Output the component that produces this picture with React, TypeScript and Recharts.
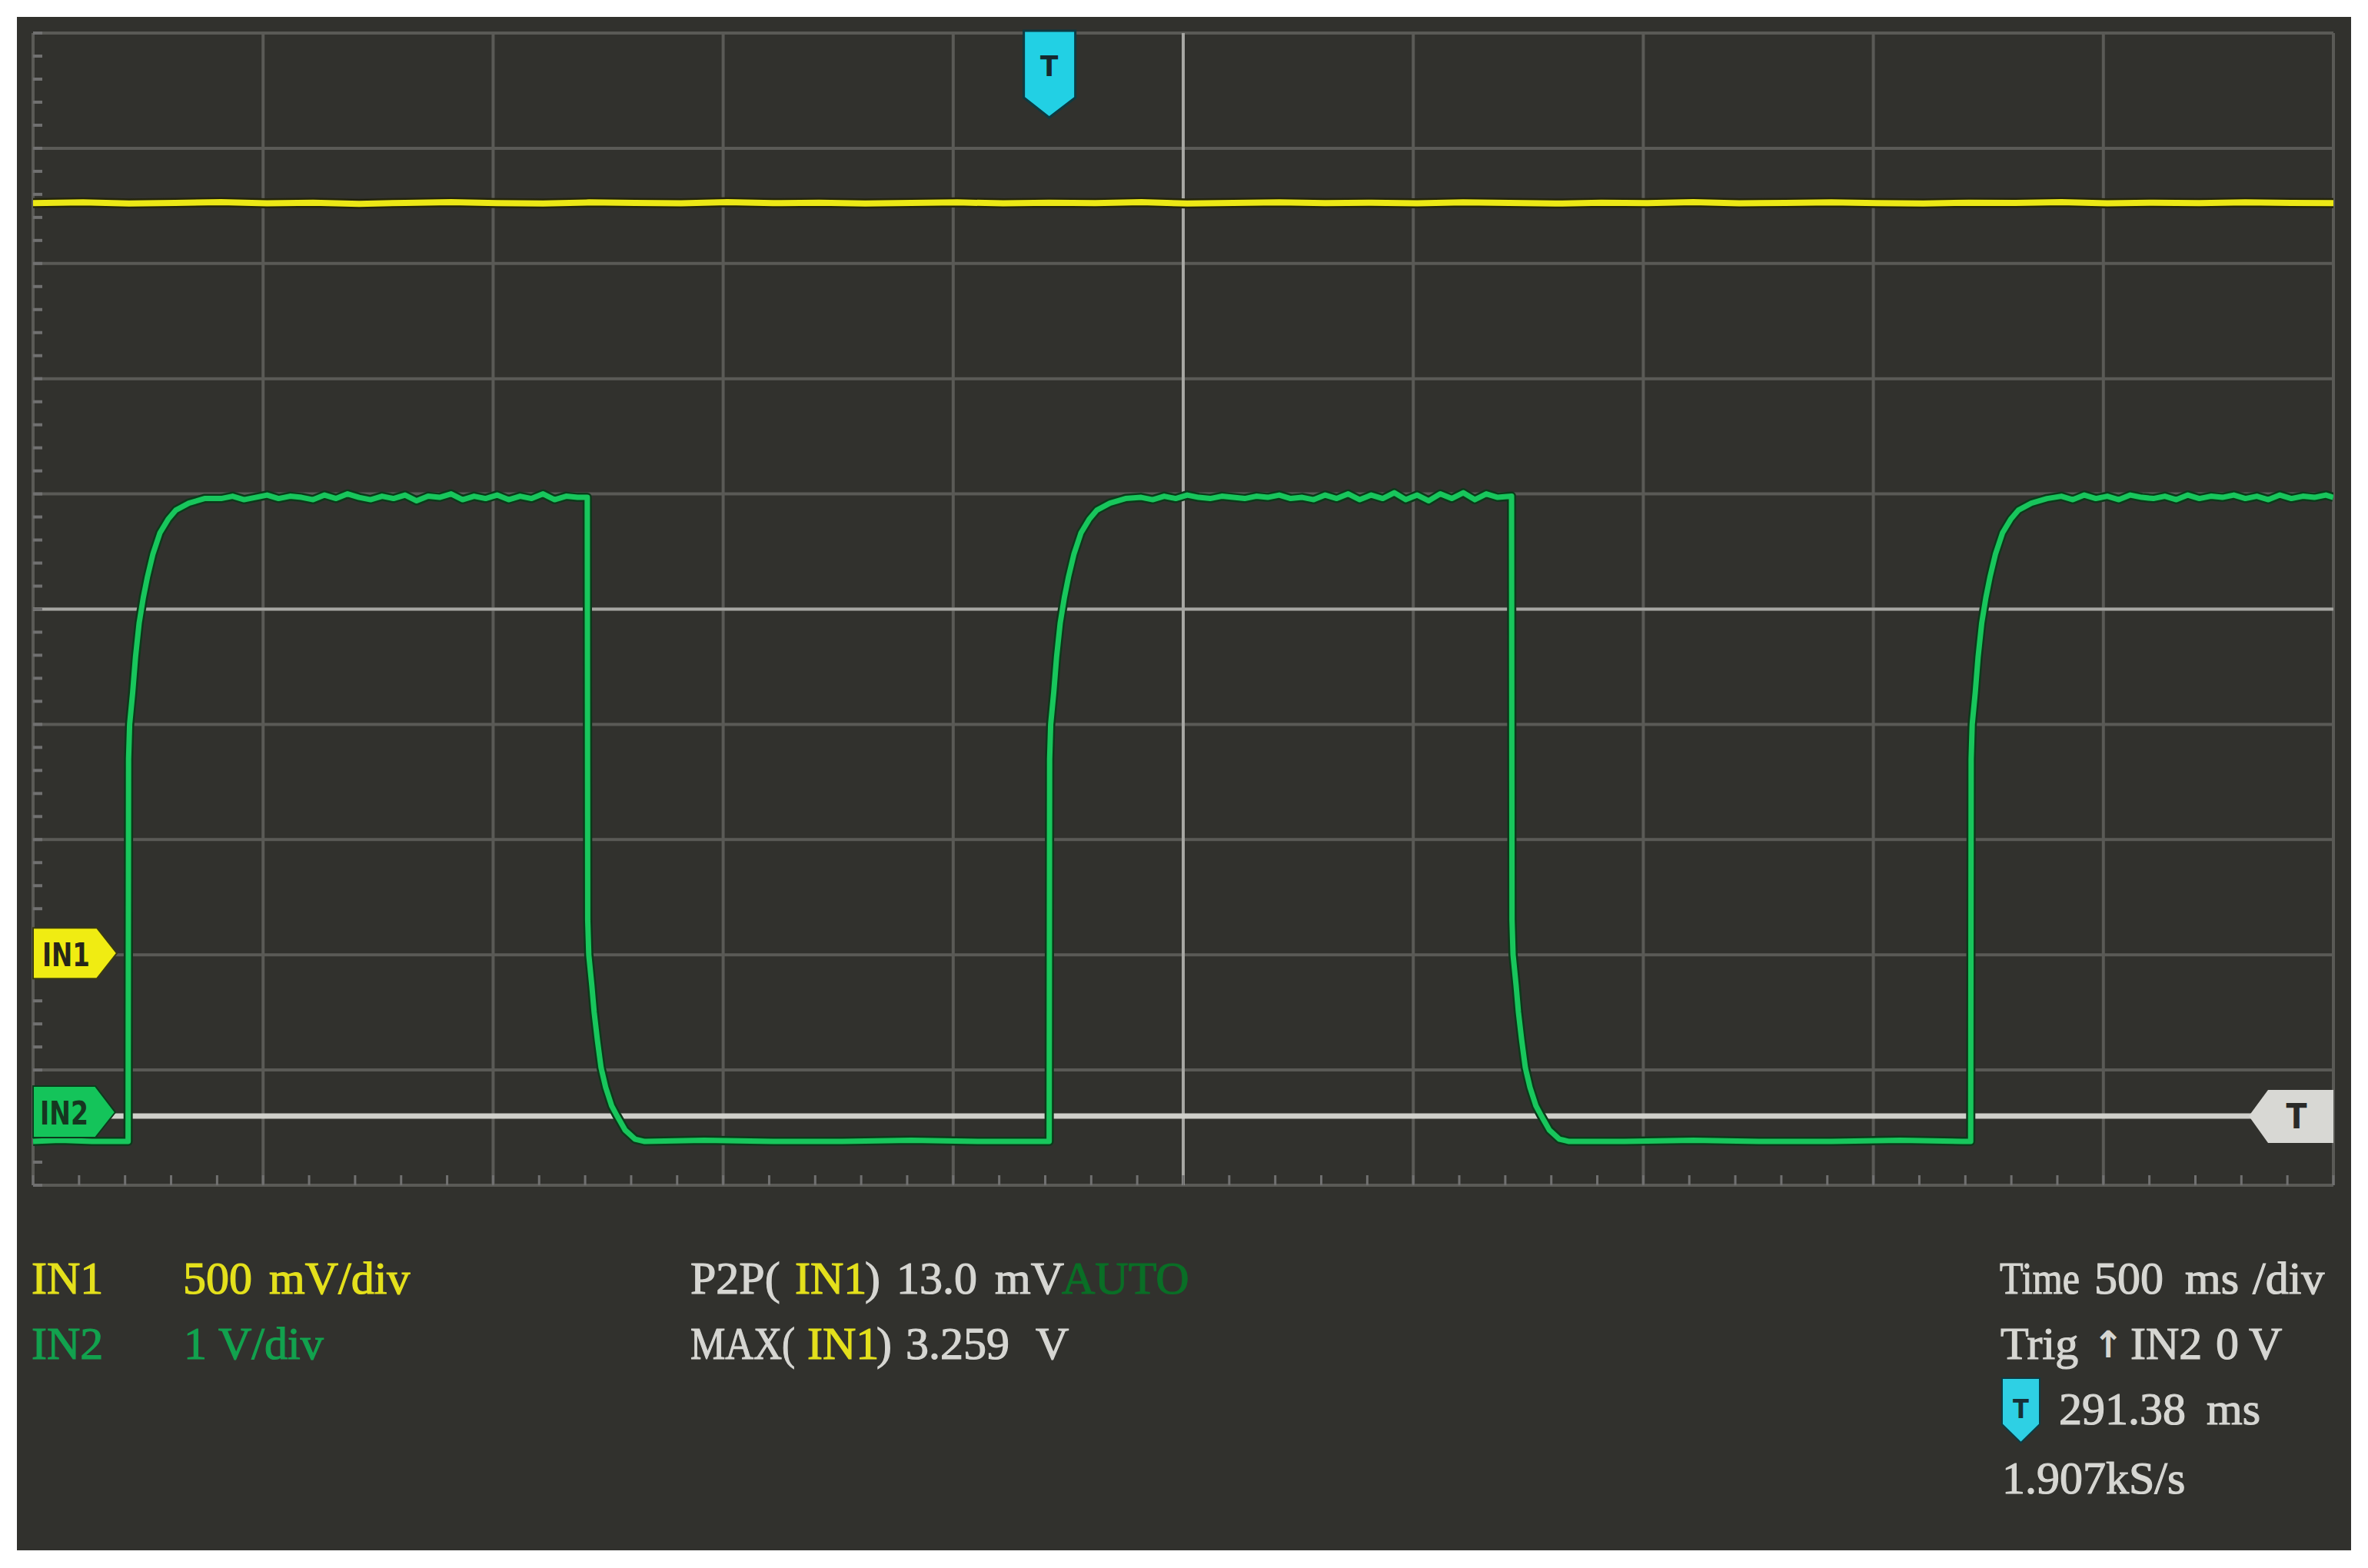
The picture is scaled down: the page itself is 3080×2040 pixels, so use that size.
import React from "react";
import { LineChart, Line, XAxis, YAxis, CartesianGrid, ReferenceLine, ReferenceDot } from "recharts";

// scope settings (from the readout under the screen)
const timePerDiv = 500; // ms/div
const trigDelay = 291.38; // ms, screen centre after the trigger
const in1VoltsPerDiv = 0.5;
const in2VoltsPerDiv = 1;
const in1ZeroDiv = -3; // IN1 marker, divisions from centre
const in2ZeroDiv = -4.4; // IN2 marker
const trigLevel = 0; // V on IN2

const xMin = trigDelay - 5 * timePerDiv;
const xMax = trigDelay + 5 * timePerDiv;

// IN1, [ms from trigger, V]
const in1Trace: [number, number][] = [
  [-2208.62, 3.262], [-2100, 3.265], [-2000, 3.26], [-1900, 3.263], [-1800, 3.266], [-1700, 3.261],
  [-1600, 3.264], [-1500, 3.259], [-1400, 3.263], [-1300, 3.266], [-1200, 3.262], [-1100, 3.26],
  [-1000, 3.265], [-900, 3.263], [-800, 3.261], [-700, 3.266], [-600, 3.262], [-500, 3.264],
  [-400, 3.26], [-300, 3.263], [-200, 3.265], [-100, 3.261], [0, 3.264], [100, 3.262],
  [200, 3.266], [300, 3.26], [400, 3.263], [500, 3.265], [600, 3.262], [700, 3.264],
  [800, 3.261], [900, 3.265], [1000, 3.263], [1100, 3.26], [1200, 3.264], [1300, 3.262],
  [1400, 3.266], [1500, 3.261], [1600, 3.263], [1700, 3.265], [1800, 3.262], [1900, 3.26],
  [2000, 3.264], [2100, 3.263], [2200, 3.266], [2300, 3.261], [2400, 3.264], [2500, 3.262],
  [2600, 3.265], [2700, 3.263], [2791.38, 3.262],
];

// IN2 square wave, piece by piece, [ms from trigger, V]
const in2Low0: [number, number][] = [[-2208.62, -0.22], [-2150, -0.21], [-2080, -0.22], [-2020, -0.22]];
const in2Rise1: [number, number][] = [
  [-2002, -0.22], [-2001, 3.1], [-1998.7, 3.4], [-1992, 3.68], [-1986, 3.98], [-1978, 4.28], [-1969, 4.5],
  [-1960, 4.68], [-1948, 4.88], [-1933, 5.06], [-1915, 5.18], [-1898, 5.26], [-1870, 5.32], [-1836, 5.36],
];
const in2High1: [number, number][] = [
  [-1800, 5.36], [-1775, 5.38], [-1750, 5.35], [-1725, 5.37], [-1700, 5.39], [-1675, 5.36], [-1650, 5.38],
  [-1625, 5.37], [-1600, 5.35], [-1575, 5.39], [-1550, 5.36], [-1525, 5.4], [-1500, 5.37], [-1475, 5.35],
  [-1450, 5.38], [-1425, 5.36], [-1400, 5.39], [-1375, 5.34], [-1350, 5.38], [-1325, 5.37], [-1300, 5.4],
  [-1275, 5.35], [-1250, 5.38], [-1225, 5.36], [-1200, 5.39], [-1175, 5.35], [-1150, 5.38], [-1125, 5.36],
  [-1100, 5.4], [-1075, 5.35], [-1050, 5.38], [-1025, 5.37],
];
const in2Fall1: [number, number][] = [
  [-1004, 5.37], [-1003, 1.7], [-1000.7, 1.4], [-994, 1.13], [-989, 0.9], [-982, 0.66], [-974, 0.42],
  [-964, 0.25], [-951, 0.09], [-939, 0.0], [-922, -0.12], [-900, -0.2], [-879, -0.22],
];
const in2Low1: [number, number][] = [[-750, -0.21], [-600, -0.22], [-450, -0.22], [-300, -0.21], [-150, -0.22], [-20, -0.22]];
const in2Rise2: [number, number][] = [
  [0, -0.22], [1, 3.1], [3.3, 3.4], [10, 3.68], [16, 3.98], [24, 4.28], [33, 4.5],
  [42, 4.68], [54, 4.88], [69, 5.06], [87, 5.18], [104, 5.26], [132, 5.32], [166, 5.36],
];
const in2High2: [number, number][] = [
  [200, 5.37], [225, 5.35], [250, 5.38], [275, 5.36], [300, 5.39], [325, 5.37], [350, 5.36], [375, 5.38],
  [400, 5.37], [425, 5.36], [450, 5.38], [475, 5.37], [500, 5.39], [525, 5.36], [550, 5.37], [575, 5.35],
  [600, 5.39], [625, 5.36], [650, 5.4], [675, 5.35], [700, 5.39], [725, 5.36], [750, 5.41], [775, 5.35],
  [800, 5.39], [825, 5.34], [850, 5.4], [875, 5.36], [900, 5.41], [925, 5.35], [950, 5.4], [975, 5.37],
];
const in2Fall2: [number, number][] = [
  [1005, 5.38], [1006, 1.7], [1008.3, 1.4], [1015, 1.13], [1020, 0.9], [1027, 0.66], [1035, 0.42],
  [1045, 0.25], [1058, 0.09], [1070, 0.0], [1087, -0.12], [1109, -0.2], [1130, -0.22],
];
const in2Low2: [number, number][] = [[1250, -0.22], [1400, -0.21], [1550, -0.22], [1700, -0.22], [1850, -0.21], [1985, -0.22]];
const in2Rise3: [number, number][] = [
  [2003, -0.22], [2004, 3.1], [2006.3, 3.4], [2013, 3.68], [2019, 3.98], [2027, 4.28], [2036, 4.5],
  [2045, 4.68], [2057, 4.88], [2072, 5.06], [2090, 5.18], [2107, 5.26], [2135, 5.32], [2169, 5.36],
];
const in2High3: [number, number][] = [
  [2200, 5.38], [2225, 5.35], [2250, 5.39], [2275, 5.36], [2300, 5.38], [2325, 5.35], [2350, 5.39],
  [2375, 5.37], [2400, 5.36], [2425, 5.38], [2450, 5.35], [2475, 5.39], [2500, 5.36], [2525, 5.38],
  [2550, 5.37], [2575, 5.39], [2600, 5.36], [2625, 5.38], [2650, 5.35], [2675, 5.39], [2700, 5.36],
  [2725, 5.38], [2750, 5.37], [2775, 5.39], [2791.38, 5.37],
];

const in2Trace = [
  ...in2Low0, ...in2Rise1, ...in2High1, ...in2Fall1, ...in2Low1, ...in2Rise2,
  ...in2High2, ...in2Fall2, ...in2Low2, ...in2Rise3, ...in2High3,
];

const toScreen = (pts: [number, number][], vPerDiv: number, zero: number) =>
  pts.map(([t, v]) => ({ t, d: v / vPerDiv + zero }));

const majorTimeTicks = Array.from({ length: 11 }, (_, i) => xMin + i * timePerDiv);
const minorTimeTicks = Array.from({ length: 51 }, (_, i) => xMin + (i * timePerDiv) / 5);
const majorDivTicks = Array.from({ length: 11 }, (_, i) => i - 5);
const minorDivTicks = Array.from({ length: 51 }, (_, i) => -5 + i * 0.2);

const serif = "'Liberation Serif', 'Times New Roman', serif";
const narrow = "'Liberation Sans Narrow', 'DejaVu Sans Condensed', 'Liberation Sans', sans-serif";
const white = "#d6d6d2";
const yellow = "#e4e01c";
const green = "#12a24e";

// grid needs ticks, but nothing is drawn for them
const NoTick = () => <g />;
const BottomTick = (p: any) => (
  <line x1={p.x} x2={p.x} y1={p.y} y2={p.y - 13} stroke="#707070" strokeWidth={3} />
);
const LeftTick = (p: any) => {
  const v = p.payload?.value ?? 0;
  // the channel markers sit over these
  if (Math.abs(v - in1ZeroDiv) < 0.3 || Math.abs(v - in2ZeroDiv) < 0.3) return <g />;
  return <line x1={p.x} x2={p.x + 12} y1={p.y} y2={p.y} stroke="#707070" strokeWidth={4} />;
};

const In1Marker = (p: any) => (
  <g>
    <polygon
      points={`${p.cx},${p.cy - 35} ${p.cx + 83},${p.cy - 35} ${p.cx + 109},${p.cy - 2} ${p.cx + 83},${p.cy + 31} ${p.cx},${p.cy + 31}`}
      fill="#f0ec12" stroke="#3a3a14" strokeWidth={2}
    />
    <text x={p.cx + 12} y={p.cy + 15} fontSize={42} fontWeight="bold" fontFamily={narrow} fill="#26261a"
      textLength={62} lengthAdjust="spacingAndGlyphs">IN1</text>
  </g>
);

const In2Marker = (p: any) => (
  <g>
    <polygon
      points={`${p.cx},${p.cy - 39} ${p.cx + 81},${p.cy - 39} ${p.cx + 107},${p.cy - 5} ${p.cx + 81},${p.cy + 28} ${p.cx},${p.cy + 28}`}
      fill="#14c45a" stroke="#0c3a1c" strokeWidth={2}
    />
    <text x={p.cx + 9} y={p.cy + 11} fontSize={42} fontWeight="bold" fontFamily={narrow} fill="#163620"
      textLength={63} lengthAdjust="spacingAndGlyphs">IN2</text>
  </g>
);

const TopTrigMarker = (p: any) => (
  <g>
    <polygon
      points={`${p.cx - 33},${p.cy - 3} ${p.cx + 34},${p.cy - 3} ${p.cx + 34},${p.cy + 84} ${p.cx},${p.cy + 110} ${p.cx - 33},${p.cy + 84}`}
      fill="#22d0e4" stroke="#0c3a42" strokeWidth={3}
    />
    <text x={p.cx} y={p.cy + 56} textAnchor="middle" fontSize={38} fontWeight="bold" fontFamily={narrow} fill="#16282e">T</text>
  </g>
);

const RightTrigMarker = (p: any) => (
  <g>
    <polygon
      points={`${p.cx},${p.cy - 34} ${p.cx - 85},${p.cy - 34} ${p.cx - 110},${p.cy} ${p.cx - 85},${p.cy + 35} ${p.cx},${p.cy + 35}`}
      fill="#d8d8d4"
    />
    <text x={p.cx - 48} y={p.cy + 16} textAnchor="middle" fontSize={44} fontWeight="bold" fontFamily={narrow} fill="#2a2a28">T</text>
  </g>
);

export default function App() {
  const in1Data = toScreen(in1Trace, in1VoltsPerDiv, in1ZeroDiv);
  const in2Data = toScreen(in2Trace, in2VoltsPerDiv, in2ZeroDiv);
  const trigDiv = in2ZeroDiv + trigLevel / in2VoltsPerDiv;

  return (
    <div style={{ position: "absolute", left: 0, top: 0, width: 3080, height: 2040, background: "#fff", overflow: "hidden" }}>
      <div style={{ position: "absolute", left: 22, top: 22, width: 3036, height: 1995, background: "#31312d" }} />
      <div style={{ position: "absolute", left: 0, top: 0 }}>
        <LineChart width={3080} height={2040} margin={{ top: 43, right: 45, bottom: 497, left: 42 }}>
          <XAxis dataKey="t" type="number" domain={[xMin, xMax]} allowDataOverflow ticks={majorTimeTicks}
            interval={0} tick={NoTick} axisLine={false} tickLine={false} height={0} />
          <XAxis xAxisId="minor" dataKey="t" type="number" domain={[xMin, xMax]} allowDataOverflow ticks={minorTimeTicks}
            interval={0} tick={BottomTick} tickSize={0} tickMargin={0} axisLine={false} tickLine={false} height={1} />
          <YAxis type="number" domain={[-5, 5]} allowDataOverflow ticks={majorDivTicks}
            interval={0} tick={NoTick} axisLine={false} tickLine={false} width={0} />
          <YAxis yAxisId="minor" type="number" domain={[-5, 5]} allowDataOverflow ticks={minorDivTicks}
            interval={0} tick={LeftTick} tickSize={0} tickMargin={0} axisLine={false} tickLine={false} width={1} />
          <CartesianGrid stroke="#5a5a56" strokeWidth={4} />
          <ReferenceLine x={trigDelay} stroke="#a6a6a2" strokeWidth={4} zIndex={-50} />
          <ReferenceLine y={0} stroke="#a6a6a2" strokeWidth={4} zIndex={-50} />
          <ReferenceLine y={trigDiv} stroke="#cfcfca" strokeWidth={7} zIndex={-40} />
          <Line data={in1Data} dataKey="d" name="in1-edge" stroke="#25250c" strokeWidth={13} dot={false}
            isAnimationActive={false} type="linear" strokeLinejoin="round" />
          <Line data={in1Data} dataKey="d" name="IN1" stroke="#ece816" strokeWidth={8} dot={false}
            isAnimationActive={false} type="linear" strokeLinejoin="round" />
          <Line data={in2Data} dataKey="d" name="in2-edge" stroke="#0b3a1a" strokeWidth={12} dot={false}
            isAnimationActive={false} type="linear" strokeLinejoin="round" />
          <Line data={in2Data} dataKey="d" name="IN2" stroke="#18c65c" strokeWidth={7} dot={false}
            isAnimationActive={false} type="linear" strokeLinejoin="round" />
          <ReferenceDot x={xMin} y={in1ZeroDiv} r={0} ifOverflow="visible" shape={In1Marker} zIndex={1600} />
          <ReferenceDot x={xMin} y={in2ZeroDiv} r={0} ifOverflow="visible" shape={In2Marker} zIndex={1600} />
          <ReferenceDot x={0} y={5} r={0} ifOverflow="visible" shape={TopTrigMarker} zIndex={1600} />
          <ReferenceDot x={xMax} y={trigDiv} r={0} ifOverflow="visible" shape={RightTrigMarker} zIndex={1600} />
        </LineChart>
      </div>
      <svg width={3080} height={2040} style={{ position: "absolute", left: 0, top: 0, pointerEvents: "none" }}
        fontFamily={serif} fontSize={60} strokeWidth={1.2}>
        {/* channel scales */}
        <text x={41} y={1683} fill={yellow} stroke={yellow}>IN1</text>
        <text x={238} y={1683} fill={yellow} stroke={yellow}>500</text>
        <text x={350} y={1683} fill={yellow} stroke={yellow}>mV/div</text>
        <text x={41} y={1768} fill={green} stroke={green}>IN2</text>
        <text x={239} y={1768} fill={green} stroke={green}>1</text>
        <text x={284} y={1768} fill={green} stroke={green}>V/div</text>
        {/* measurements */}
        <text x={898} y={1683} fill={white} stroke={white}>P2P(</text>
        <text x={1034} y={1683} fill={yellow} stroke={yellow}>IN1</text>
        <text x={1125} y={1683} fill={white} stroke={white}>)</text>
        <text x={1166} y={1683} fill={white} stroke={white}>13.0</text>
        <text x={1294} y={1683} fill={white} stroke={white}>mV</text>
        <text x={1381} y={1683} fill="#0a6e26" stroke="#0a6e26">AUTO</text>
        <text x={898} y={1768} fill={white} stroke={white} textLength={136} lengthAdjust="spacingAndGlyphs">MAX(</text>
        <text x={1050} y={1768} fill={yellow} stroke={yellow}>IN1</text>
        <text x={1140} y={1768} fill={white} stroke={white}>)</text>
        <text x={1178} y={1768} fill={white} stroke={white}>3.259</text>
        <text x={1347} y={1768} fill={white} stroke={white}>V</text>
        {/* timebase / trigger */}
        <text x={2601} y={1683} fill={white} stroke={white} textLength={104} lengthAdjust="spacingAndGlyphs">Time</text>
        <text x={2724} y={1683} fill={white} stroke={white}>500</text>
        <text x={2842} y={1683} fill={white} stroke={white}>ms</text>
        <text x={2930} y={1683} fill={white} stroke={white}>/div</text>
        <text x={2602} y={1768} fill={white} stroke={white}>Trig</text>
        <text x={2722} y={1766} fill={white} fontFamily="'DejaVu Sans', sans-serif" fontWeight="bold" fontSize={48}>↑</text>
        <text x={2771} y={1768} fill={white} stroke={white}>IN2</text>
        <text x={2882} y={1768} fill={white} stroke={white}>0</text>
        <text x={2925} y={1768} fill={white} stroke={white}>V</text>
        <path d="M2604,1793 h49 v60 l-24.5,24 l-24.5,-24 z" fill="#2ed0e4" stroke="#0c3c44" strokeWidth={2} />
        <text x={2628.5} y={1845} textAnchor="middle" fontFamily={narrow} fontWeight="bold" fontSize={34} fill="#163038">T</text>
        <text x={2678} y={1853} fill={white} stroke={white}>291.38</text>
        <text x={2870} y={1853} fill={white} stroke={white}>ms</text>
        <text x={2604} y={1943} fill={white} stroke={white}>1.907kS/s</text>
      </svg>
    </div>
  );
}
